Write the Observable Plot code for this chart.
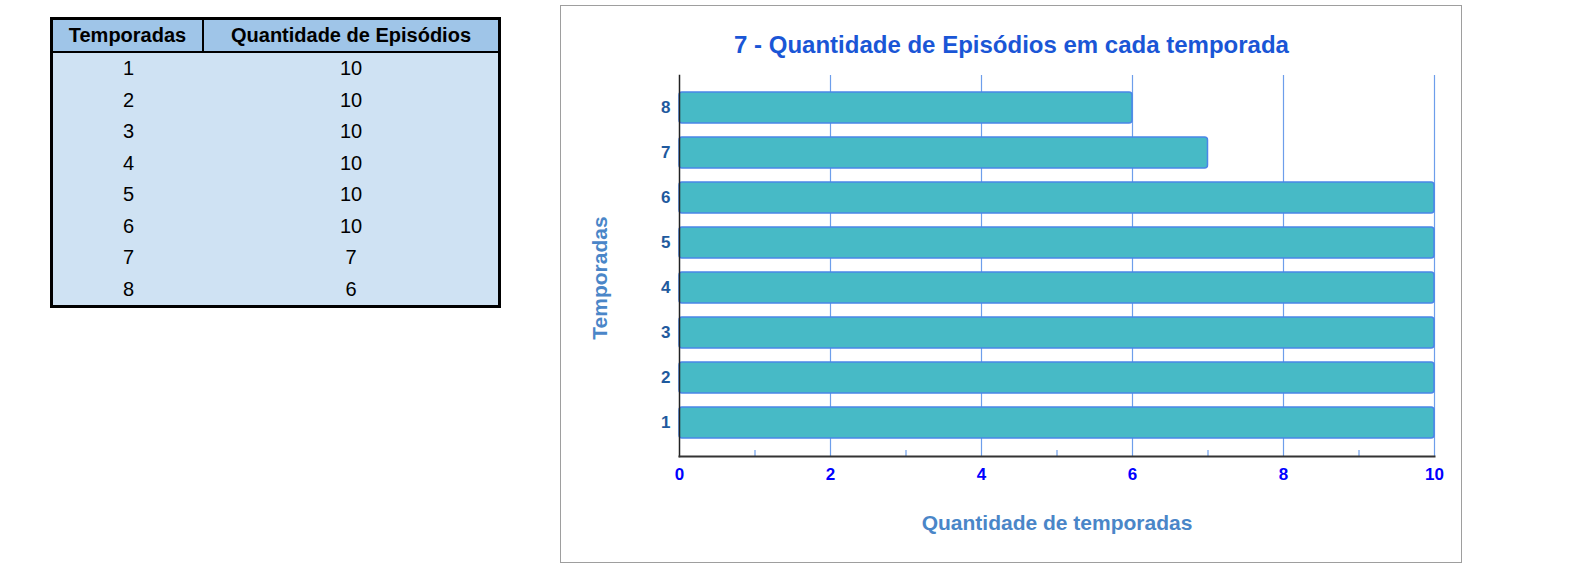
<!DOCTYPE html>
<html>
<head>
<meta charset="utf-8">
<script src="https://cdn.jsdelivr.net/npm/d3@7"></script>
<script src="https://cdn.jsdelivr.net/npm/@observablehq/plot@0.6"></script>
<style>
  html, body { margin: 0; padding: 0; background: #fff; font-family: "Liberation Sans", Arial, sans-serif; }
  #page { position: relative; width: 1578px; height: 580px; overflow: hidden; }
  #tbl { position: absolute; left: 50px; top: 17px; border-collapse: separate; border-spacing: 0; border: 3px solid #000; font-size: 20px; color: #000; table-layout: fixed; }
  #tbl th { background: #9fc5e8; font-weight: bold; height: 31px; padding: 0; border-bottom: 2px solid #000; line-height: 31px; }
  #tbl th:first-child { border-right: 2px solid #000; width: 149px; }
  #tbl th:last-child { width: 294px; }
  #tbl td { background: #cfe2f3; height: 31.5px; padding: 0; text-align: center; line-height: 31.5px; }
  #box { position: absolute; left: 560px; top: 5px; width: 900px; height: 556px; border: 1px solid #9e9e9e; }
  #chart { position: absolute; left: 0; top: 0; }
</style>
</head>
<body>
<div id="page">
  <table id="tbl"><thead><tr id="hdr"></tr></thead><tbody id="tb"></tbody></table>
  <div id="box"><div id="chart"></div></div>
</div>
<script>
const temporadas = [1, 2, 3, 4, 5, 6, 7, 8];
const episodios = [10, 10, 10, 10, 10, 10, 7, 6];
const headers = ["Temporadas", "Quantidade de Episódios"];
const xTicks = [0, 2, 4, 6, 8, 10];
const minorTicks = [1, 3, 5, 7, 9];
const title = "7 - Quantidade de Episódios em cada temporada";
const xLabel = "Quantidade de temporadas";
const yLabel = "Temporadas";

// table
const hdr = document.getElementById("hdr");
headers.forEach(h => { const th = document.createElement("th"); th.textContent = h; hdr.appendChild(th); });
const tb = document.getElementById("tb");
temporadas.forEach((t, i) => {
  const tr = document.createElement("tr");
  [t, episodios[i]].forEach(v => { const td = document.createElement("td"); td.textContent = v; tr.appendChild(td); });
  tb.appendChild(tr);
});

const data = temporadas.map((t, i) => ({t: String(t), ep: episodios[i]}));
const yDomain = temporadas.map(String).reverse();

const chart = Plot.plot({
  width: 900, height: 556,
  marginLeft: 118, marginRight: 27, marginTop: 69, marginBottom: 106,
  style: {fontFamily: "'Liberation Sans', Arial, sans-serif", fontSize: "16px", overflow: "visible"},
  x: {domain: [0, 10], axis: null},
  y: {domain: yDomain, paddingInner: 0.31, paddingOuter: 0.355, axis: null},
  marks: [
    Plot.ruleX(xTicks.filter(d => d > 0), {x: d => d, stroke: "#6d9eeb", strokeWidth: 1.2}),
    Plot.ruleX(minorTicks, {x: d => d, stroke: "#6d9eeb", strokeWidth: 1.2, insetTop: 375}),
    Plot.barX(data, {x: "ep", y: "t", fill: "#47bac6", stroke: "#4a86e8", strokeWidth: 1.5, rx: 3}),
    Plot.frame({anchor: "left", stroke: "#222", strokeWidth: 1.5}),
    Plot.frame({anchor: "bottom", stroke: "#333", strokeWidth: 2}),
    Plot.text(xTicks, {x: d => d, frameAnchor: "bottom", lineAnchor: "middle", dy: 18, text: d => String(d), fill: "#0000ff", fontWeight: "bold", fontSize: 17}),
    Plot.text(yDomain, {y: d => d, frameAnchor: "left", textAnchor: "end", lineAnchor: "middle", dx: -9, text: d => d, fill: "#1f5a9e", fontWeight: "bold", fontSize: 17}),
    Plot.text([xLabel], {frameAnchor: "bottom", lineAnchor: "middle", dy: 66.5, text: d => d, fill: "#4a86c8", fontWeight: "bold", fontSize: 21}),
    Plot.text([yLabel], {frameAnchor: "left", textAnchor: "middle", lineAnchor: "middle", dx: -79, dy: 12, rotate: -90, text: d => d, fill: "#4a86c8", fontWeight: "bold", fontSize: 21}),
    Plot.text([title], {frameAnchor: "top", lineAnchor: "middle", dy: -30, dx: -45.5, text: d => d, fill: "#1a56d6", fontWeight: "bold", fontSize: 24})
  ]
});
document.getElementById("chart").appendChild(chart);
</script>
</body>
</html>
